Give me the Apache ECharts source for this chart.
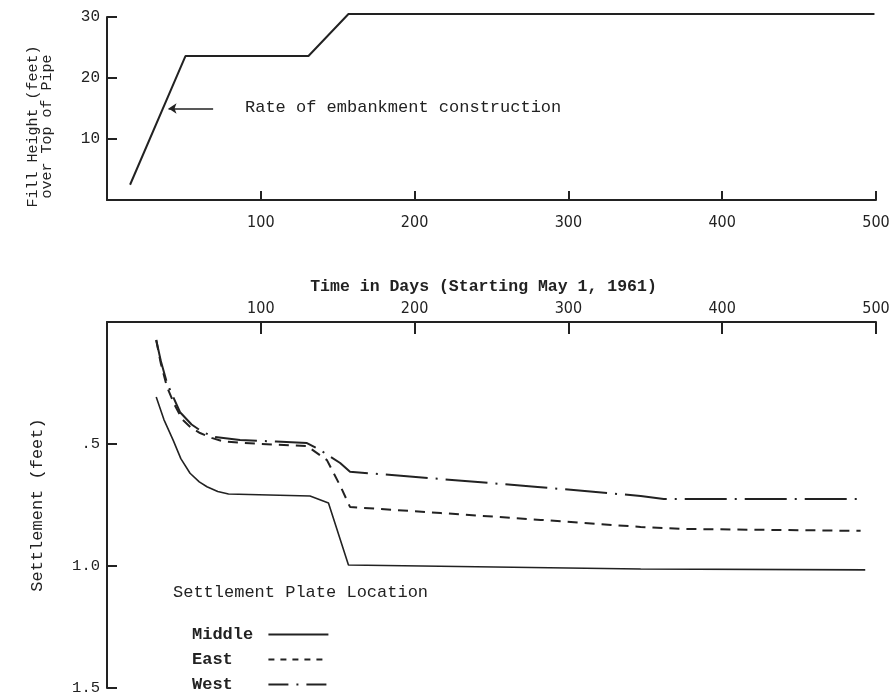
<!DOCTYPE html>
<html>
<head>
<meta charset="utf-8">
<script src="https://cdn.jsdelivr.net/npm/echarts@6/dist/echarts.min.js"></script>
<style>
html,body{margin:0;padding:0;background:#fff;}
#main{width:895px;height:699px;}
</style>
</head>
<body>
<div id="main"></div>
<script>
// ---- data ----
const fillDays   = [15, 51, 131, 157, 499];
const fillHeight = [2.5, 23.6, 23.6, 30.5, 30.5];

const middleDays   = [32, 37, 43, 48, 54, 60, 65, 72, 79, 132, 144, 157, 347, 493];
const middleSettle = [0.307, 0.40, 0.484, 0.56, 0.62, 0.655, 0.675, 0.695, 0.705, 0.713, 0.742, 0.996, 1.012, 1.016];

const eastDays   = [32, 35, 39, 44, 49, 55, 60.5, 68, 76, 100, 130, 143, 152, 158, 217, 282, 347, 373, 490];
const eastSettle = [0.074, 0.17, 0.266, 0.34, 0.40, 0.435, 0.455, 0.475, 0.49, 0.5, 0.508, 0.566, 0.676, 0.758, 0.783, 0.811, 0.84, 0.848, 0.856];

const westDays   = [32, 35, 39, 47.5, 55, 62, 69, 86.5, 110, 130, 138.6, 151.6, 158, 193, 280, 347, 362, 492];
const westSettle = [0.074, 0.16, 0.25, 0.37, 0.42, 0.45, 0.47, 0.484, 0.49, 0.496, 0.525, 0.578, 0.614, 0.631, 0.676, 0.713, 0.725, 0.725];

const seriesNames = ['Middle', 'East', 'West'];
const settleLabels = {0: '', 0.5: '.5', 1: '1.0', 1.5: '1.5'};
const annotationText = 'Rate of embankment construction';
const legendTitle = 'Settlement Plate Location';
const topYName = 'Fill Height (feet)\nover Top of Pipe';
const bottomYName = 'Settlement (feet)';
const bottomXName = 'Time in Days (Starting May 1, 1961)';

// ---- chart ----
const MONO = "'Liberation Mono','DejaVu Sans Mono',monospace";
const NARROW = "'Liberation Sans Narrow','DejaVu Sans Condensed','Liberation Sans',sans-serif";
const INK = '#222';
const pair = (xs, ys) => xs.map((x, i) => [x, ys[i]]);
const axisLine = {show: true, lineStyle: {color: INK, width: 2}};

const chart = echarts.init(document.getElementById('main'), null, {renderer: 'canvas'});
chart.setOption({
  backgroundColor: '#fff',
  animation: false,
  grid: [
    {left: 107, right: 19, top: 17, height: 183},
    {left: 107, right: 19, top: 322, height: 366}
  ],
  xAxis: [
    {
      gridIndex: 0, type: 'value', min: 0, max: 500, interval: 100,
      axisLine: axisLine,
      axisTick: {show: true, inside: true, length: 9, lineStyle: {color: INK, width: 2}},
      axisLabel: {margin: 15, color: INK, fontFamily: NARROW, fontSize: 16,
        formatter: v => v === 0 ? '' : String(v)},
      splitLine: {show: false}
    },
    {
      gridIndex: 1, type: 'value', min: 0, max: 500, interval: 100, position: 'top',
      axisLine: axisLine,
      axisTick: {show: true, inside: true, length: 12, lineStyle: {color: INK, width: 2}},
      axisLabel: {margin: 5, color: INK, fontFamily: NARROW, fontSize: 16,
        formatter: v => v === 0 ? '' : String(v)},
      splitLine: {show: false},
      name: bottomXName, nameLocation: 'middle', nameGap: 27,
      nameTextStyle: {fontFamily: MONO, fontSize: 16.5, fontWeight: 'bold', color: INK, padding: [0, 16, 0, 0]}
    }
  ],
  yAxis: [
    {
      gridIndex: 0, type: 'value', min: 0, max: 30, interval: 10,
      axisLine: axisLine,
      axisTick: {show: true, inside: true, length: 10, lineStyle: {color: INK, width: 2}},
      axisLabel: {margin: 7, color: INK, fontFamily: MONO, fontSize: 16,
        formatter: v => v === 0 ? '' : String(v)},
      splitLine: {show: false},
      name: topYName, nameLocation: 'middle', nameGap: 53,
      nameTextStyle: {fontFamily: MONO, fontSize: 15, color: INK, lineHeight: 14, padding: [0, 36, 0, 0]}
    },
    {
      gridIndex: 1, type: 'value', min: 0, max: 1.5, interval: 0.5, inverse: true,
      axisLine: axisLine,
      axisTick: {show: true, inside: true, length: 10, lineStyle: {color: INK, width: 2}},
      axisLabel: {margin: 7, color: INK, fontFamily: MONO, fontSize: 15.5,
        formatter: v => settleLabels[v] !== undefined ? settleLabels[v] : String(v)},
      splitLine: {show: false},
      name: bottomYName, nameLocation: 'middle', nameGap: 61,
      nameTextStyle: {fontFamily: MONO, fontSize: 17, color: INK}
    }
  ],
  legend: {
    data: [
      {name: seriesNames[0]},
      {name: seriesNames[1], lineStyle: {type: [6, 6], width: 2}},
      {name: seriesNames[2], lineStyle: {type: [20, 8, 2, 8], width: 2}}
    ],
    orient: 'vertical', left: 187, top: 621,
    align: 'right', itemWidth: 60, itemHeight: 18, itemGap: 8,
    itemStyle: {opacity: 0},
    formatter: n => n.padEnd(7, ' '),
    textStyle: {fontFamily: MONO, fontSize: 17, fontWeight: 'bold', color: INK},
    selectedMode: false
  },
  graphic: [
    {type: 'text', left: 245, top: 99,
      style: {text: annotationText, font: "17px 'Liberation Mono','DejaVu Sans Mono',monospace", fill: INK}},
    {type: 'text', left: 173, top: 584,
      style: {text: legendTitle, font: "17px 'Liberation Mono','DejaVu Sans Mono',monospace", fill: INK}}
  ],
  series: [
    {
      type: 'line', xAxisIndex: 0, yAxisIndex: 0, data: pair(fillDays, fillHeight),
      symbol: 'none', clip: false, lineStyle: {color: INK, width: 2},
      markLine: {
        silent: true, symbol: ['none', 'arrow'], symbolSize: 8,
        label: {show: false},
        lineStyle: {color: INK, width: 1.5, type: 'solid'},
        data: [[{coord: [69, 15]}, {coord: [40, 15]}]]
      }
    },
    {
      name: seriesNames[0], type: 'line', xAxisIndex: 1, yAxisIndex: 1,
      data: pair(middleDays, middleSettle), symbol: 'none',
      itemStyle: {color: INK}, lineStyle: {color: INK, width: 1.6, type: 'solid'}
    },
    {
      name: seriesNames[1], type: 'line', xAxisIndex: 1, yAxisIndex: 1,
      data: pair(eastDays, eastSettle), symbol: 'none',
      itemStyle: {color: INK}, lineStyle: {color: INK, width: 2, type: [10, 7]}
    },
    {
      name: seriesNames[2], type: 'line', xAxisIndex: 1, yAxisIndex: 1,
      data: pair(westDays, westSettle), symbol: 'none',
      itemStyle: {color: INK}, lineStyle: {color: INK, width: 2, type: [42, 8, 2, 8]}
    }
  ]
});
</script>
</body>
</html>
